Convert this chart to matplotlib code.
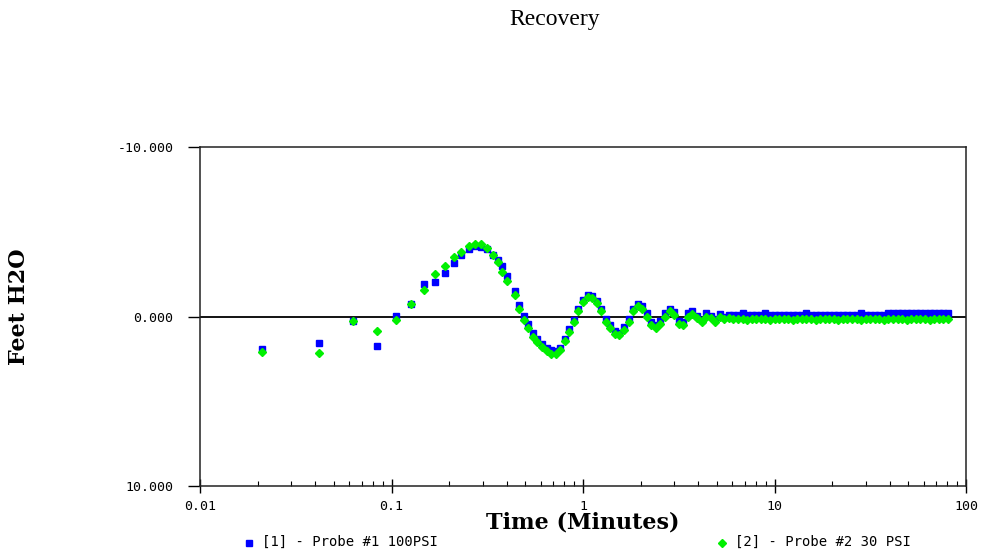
import numpy as np
import matplotlib
matplotlib.use("Agg")
import matplotlib.pyplot as plt
from matplotlib.lines import Line2D
from matplotlib.ticker import FixedLocator, LogLocator, NullFormatter

# time in minutes
time_min = [0.021, 0.042, 0.063, 0.084, 0.106, 0.127, 0.148, 0.169, 0.190, 0.211,
            0.232, 0.253, 0.274, 0.295, 0.316, 0.337, 0.358, 0.379, 0.400,
            0.439, 0.464, 0.490, 0.518, 0.547, 0.578, 0.611, 0.645, 0.681, 0.720,
            0.760, 0.803, 0.848, 0.896, 0.947,
            1.000, 1.056, 1.116, 1.179, 1.245, 1.315, 1.389, 1.468, 1.550, 1.638,
            1.730, 1.827, 1.931, 2.039, 2.154, 2.276, 2.404, 2.539, 2.682, 2.833,
            2.993, 3.162, 3.340, 3.528, 3.727, 3.937, 4.159, 4.393, 4.641, 4.902,
            5.179, 5.470, 5.779,
            6.105, 6.449, 6.812, 7.196, 7.601, 8.030, 8.482, 8.960, 9.465, 10.00,
            10.56, 11.16, 11.79, 12.45, 13.15, 13.89, 14.68, 15.50, 16.38, 17.30,
            18.27, 19.31, 20.39, 21.54, 22.76, 24.04, 25.39, 26.82, 28.33, 29.93,
            31.62, 33.40, 35.28, 37.27, 39.37, 41.59, 43.93, 46.41, 49.02, 51.79,
            54.70, 57.79, 61.05, 64.49, 68.12, 71.96, 76.01, 80.30]

# [1] Probe #1 100PSI  (feet H2O)
probe1 = [1.90, 1.57, 0.24, 1.75, -0.02, -0.75, -1.90, -2.06, -2.57, -3.16,
          -3.65, -4.00, -4.14, -4.10, -4.00, -3.65, -3.31, -2.96, -2.40,
          -1.50, -0.70, -0.05, 0.45, 1.00, 1.30, 1.60, 1.88, 2.00, 2.04,
          1.85, 1.30, 0.75, 0.20, -0.45,
          -0.98, -1.26, -1.20, -0.90, -0.45, 0.12, 0.50, 0.85, 1.00, 0.60,
          0.15, -0.45, -0.75, -0.60, -0.20, 0.30, 0.50, 0.25, -0.22, -0.45,
          -0.25, 0.25, 0.35, -0.20, -0.30, -0.05, 0.20, -0.20, -0.05, 0.12,
          -0.12, 0.00, -0.10,
          -0.08, -0.08, -0.20, -0.08, -0.08, -0.08, -0.08, -0.20, -0.08, -0.08,
          -0.08, -0.08, -0.08, -0.08, -0.08, -0.08, -0.20, -0.08, -0.08, -0.08,
          -0.08, -0.08, -0.08, -0.08, -0.08, -0.08, -0.08, -0.08, -0.20, -0.08,
          -0.08, -0.08, -0.08, -0.08, -0.20, -0.20, -0.20, -0.20, -0.20, -0.20,
          -0.20, -0.20, -0.20, -0.20, -0.20, -0.20, -0.20, -0.20]

# [2] Probe #2 30 PSI
probe2 = [2.10, 2.18, 0.27, 0.84, 0.18, -0.75, -1.55, -2.49, -3.00, -3.49,
          -3.82, -4.18, -4.29, -4.29, -4.06, -3.63, -3.20, -2.63, -2.10,
          -1.25, -0.45, 0.20, 0.70, 1.20, 1.50, 1.80, 2.05, 2.20, 2.20,
          1.95, 1.45, 0.90, 0.35, -0.30,
          -0.85, -1.15, -1.10, -0.80, -0.30, 0.30, 0.70, 1.05, 1.10, 0.80,
          0.30, -0.30, -0.60, -0.45, 0.00, 0.50, 0.70, 0.45, 0.00, -0.30,
          -0.10, 0.45, 0.50, 0.00, -0.15, 0.10, 0.35, 0.00, 0.10, 0.30,
          0.05, 0.15, 0.10,
          0.15, 0.12, 0.15, 0.18, 0.15, 0.12, 0.15, 0.15, 0.18, 0.15,
          0.12, 0.15, 0.15, 0.18, 0.15, 0.12, 0.15, 0.15, 0.18, 0.15,
          0.12, 0.15, 0.15, 0.18, 0.15, 0.12, 0.15, 0.15, 0.18, 0.15,
          0.12, 0.15, 0.15, 0.18, 0.15, 0.12, 0.15, 0.15, 0.18, 0.15,
          0.12, 0.15, 0.15, 0.18, 0.15, 0.12, 0.15, 0.15]

yticks = [-10, 0, 10]
ytick_labels = ["-10.000", "0.000", "10.000"]
xticks = [0.01, 0.1, 1, 10, 100]
xtick_labels = ["0.01", "0.1", "1", "10", "100"]

BLUE = "#0000ff"
GREEN = "#00f000"
mono = "DejaVu Sans Mono"

fig = plt.figure(figsize=(9.81, 5.5), dpi=100)
ax = fig.add_axes([200 / 981, 1 - 486 / 550, 766 / 981, 339 / 550])

ax.axhline(0, color="black", lw=1.3, zorder=1)
ax.plot(time_min, probe1, ls="none", marker="s", ms=5, color=BLUE, zorder=3)
ax.plot(time_min, probe2, ls="none", marker="D", ms=4.2, color=GREEN, zorder=4)

ax.set_xscale("log")
ax.set_xlim(0.01, 100)
ax.set_ylim(10, -10)

ax.xaxis.set_major_locator(FixedLocator(xticks))
ax.set_xticklabels(xtick_labels, fontfamily=mono, fontsize=9.5)
ax.xaxis.set_minor_locator(LogLocator(base=10, subs=np.arange(2, 10)))
ax.xaxis.set_minor_formatter(NullFormatter())
ax.set_yticks(yticks)
ax.set_yticklabels(ytick_labels, fontfamily=mono, fontsize=9.5)

ax.tick_params(axis="x", which="major", direction="inout", length=10, width=1, pad=5)
ax.tick_params(axis="x", which="minor", direction="in", length=3.5, width=0.8)
ax.tick_params(axis="y", which="major", direction="out", length=9, width=1, pad=10)
for s in ax.spines.values():
    s.set_linewidth(1.1)
    s.set_color("#222222")

fig.text(555 / 981, 1 - 20 / 550, "Recovery", ha="center", va="center",
         fontfamily="Liberation Serif", fontsize=17)
fig.text(583 / 981, 1 - 523 / 550, "Time (Minutes)", ha="center", va="center",
         fontfamily="DejaVu Serif", fontweight="bold", fontsize=16)
fig.text(19 / 981, 1 - 307 / 550, "Feet H2O", ha="center", va="center", rotation=90,
         fontfamily="DejaVu Serif", fontweight="bold", fontsize=16)

# legend along the bottom
fig.add_artist(Line2D([249 / 981], [1 - 543 / 550], marker="s", ms=4.5, color=BLUE,
                      transform=fig.transFigure))
fig.text(262 / 981, 1 - 542 / 550, "[1] - Probe #1 100PSI", ha="left", va="center",
         fontfamily=mono, fontsize=10)
fig.add_artist(Line2D([722 / 981], [1 - 543 / 550], marker="D", ms=4, color=GREEN,
                      transform=fig.transFigure))
fig.text(735 / 981, 1 - 542 / 550, "[2] - Probe #2 30 PSI", ha="left", va="center",
         fontfamily=mono, fontsize=10)

fig.savefig("out.png", dpi=100)
